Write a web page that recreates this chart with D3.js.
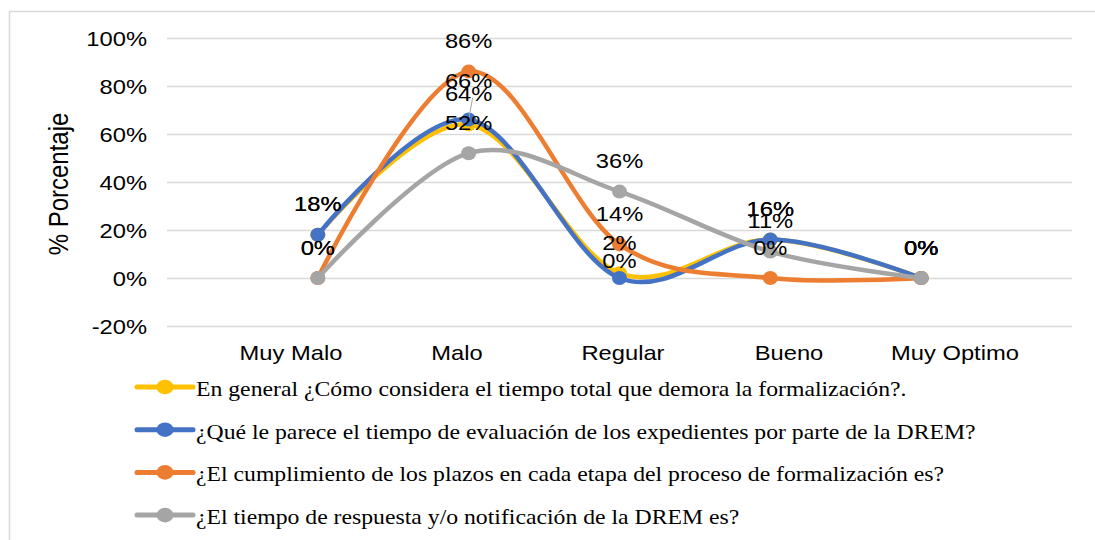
<!DOCTYPE html>
<html>
<head>
<meta charset="utf-8">
<script src="https://cdn.jsdelivr.net/npm/d3@7"></script>
<style>
  body { margin: 0; background: #fff; }
  svg { display: block; }
</style>
</head>
<body>
<script>
// Data (percent)
var categories = ["Muy Malo", "Malo", "Regular", "Bueno", "Muy Optimo"];
var seriesNames = [
  "En general ¿Cómo considera el tiempo total que demora la formalización?.",
  "¿Qué le parece el tiempo de evaluación de los expedientes por parte de la DREM?",
  "¿El cumplimiento de los plazos en cada etapa del proceso de formalización es?",
  "¿El tiempo de respuesta y/o notificación de la DREM es?"
];
var generalValues = [18, 64, 2, 16, 0];
var evaluacionValues = [18, 66, 0, 16, 0];
var plazosValues = [0, 86, 14, 0, 0];
var respuestaValues = [0, 52, 36, 11, 0];
var yTicks = [-20, 0, 20, 40, 60, 80, 100];
var colors = ["#FFC000", "#4472C4", "#ED7D31", "#A5A5A5"];

(function() {
  // the picture is stretched horizontally, so draw in a narrower box
  var sx = 1.13;
  var width = 1095, height = 540;
  var ix = function(px) { return px / sx; };

  var svg = d3.select("body").append("svg")
      .attr("width", width)
      .attr("height", height)
      .attr("viewBox", "0 0 " + ix(width) + " " + height)
      .attr("preserveAspectRatio", "none");

  // chart border
  svg.append("rect")
      .attr("x", ix(9.5)).attr("y", 11.5)
      .attr("width", ix(1200)).attr("height", 600)
      .attr("fill", "none")
      .attr("stroke", "#D9D9D9")
      .attr("stroke-width", 1.5)
      .attr("vector-effect", "non-scaling-stroke");

  var x = d3.scalePoint()
      .domain(categories)
      .range([ix(167), ix(1072)])
      .padding(1);
  var y = d3.scaleLinear()
      .domain([-20, 100])
      .range([326, 38]);

  // gridlines + tick labels
  var yAxis = svg.append("g")
      .attr("transform", "translate(" + ix(167) + ",0)")
      .call(d3.axisLeft(y)
        .tickValues(yTicks)
        .tickSize(-(ix(1072) - ix(167)))
        .tickPadding(ix(20))
        .tickFormat(function(d) { return d + "%"; }));
  yAxis.select(".domain").remove();
  yAxis.selectAll("line")
      .attr("stroke", "#D9D9D9")
      .attr("stroke-width", 1.3)
      .attr("vector-effect", "non-scaling-stroke");
  yAxis.selectAll("text")
      .attr("font-family", "'Liberation Sans', Arial, sans-serif")
      .attr("font-size", 21)
      .attr("fill", "#000")
      .attr("dy", "0.36em");

  // axis title
  svg.append("text")
      .attr("transform", "translate(" + ix(68) + "," + 184 + ") rotate(-90)")
      .attr("text-anchor", "middle")
      .attr("font-family", "'Liberation Sans', Arial, sans-serif")
      .attr("font-size", 24)
      .text("% Porcentaje");

  // category labels
  var xLabel = d3.scalePoint()
      .domain(categories)
      .range([ix(291), ix(955)]);
  svg.selectAll(".cat")
      .data(categories)
      .enter()
      .append("text")
      .attr("class", "cat")
      .attr("x", function(d) { return xLabel(d); })
      .attr("y", 360)
      .attr("text-anchor", "middle")
      .attr("font-family", "'Liberation Sans', Arial, sans-serif")
      .attr("font-size", 21)
      .text(function(d) { return d; });

  var allSeries = [generalValues, evaluacionValues, plazosValues, respuestaValues];

  var line = d3.line()
      .x(function(d, i) { return x(categories[i]); })
      .y(function(d) { return y(d); })
      .curve(d3.curveCardinal.tension(0));

  var lines = svg.append("g");
  allSeries.forEach(function(vals, s) {
    lines.append("path")
        .datum(vals)
        .attr("d", line)
        .attr("fill", "none")
        .attr("stroke", colors[s])
        .attr("stroke-width", 4.5)
        .attr("stroke-linecap", "round")
        .attr("vector-effect", "non-scaling-stroke");
    lines.selectAll(".m" + s)
        .data(vals)
        .enter()
        .append("ellipse")
        .attr("cx", function(d, i) { return x(categories[i]); })
        .attr("cy", function(d) { return y(d); })
        .attr("rx", ix(7.5))
        .attr("ry", 7)
        .attr("fill", colors[s]);
  });

  // data labels (a couple were moved by hand in the original)
  var labelNudge = { "1,1": -8, "1,2": 13 };
  var labels = svg.append("g");
  allSeries.forEach(function(vals, s) {
    vals.forEach(function(v, i) {
      var nudge = labelNudge[s + "," + i] || 0;
      var cy = y(v) - 31 + nudge;
      if (nudge < 0) {
        labels.append("line")
            .attr("x1", x(categories[i]) + ix(4)).attr("y1", cy + 17)
            .attr("x2", x(categories[i])).attr("y2", y(v))
            .attr("stroke", "#A5A5A5")
            .attr("stroke-width", 1)
            .attr("vector-effect", "non-scaling-stroke");
      }
      labels.append("text")
          .attr("x", x(categories[i]))
          .attr("y", cy)
          .attr("dy", "0.36em")
          .attr("text-anchor", "middle")
          .attr("font-family", "'Liberation Sans', Arial, sans-serif")
          .attr("font-size", 21)
          .attr("fill", "#000")
          .text(v + "%");
    });
  });

  // legend
  var legend = svg.append("g");
  seriesNames.forEach(function(name, s) {
    var ly = 387 + s * 42.7;
    legend.append("line")
        .attr("x1", ix(137)).attr("x2", ix(193))
        .attr("y1", ly).attr("y2", ly)
        .attr("stroke", colors[s])
        .attr("stroke-width", 5)
        .attr("stroke-linecap", "round")
        .attr("vector-effect", "non-scaling-stroke");
    legend.append("ellipse")
        .attr("cx", ix(165)).attr("cy", ly)
        .attr("rx", ix(8.5)).attr("ry", 7.3)
        .attr("fill", colors[s]);
    legend.append("text")
        .attr("x", ix(196))
        .attr("y", ly + 9)
        .attr("font-family", "'Liberation Serif', 'Times New Roman', serif")
        .attr("font-size", 21)
        .attr("fill", "#000")
        .text(name);
  });
})();
</script>
</body>
</html>
